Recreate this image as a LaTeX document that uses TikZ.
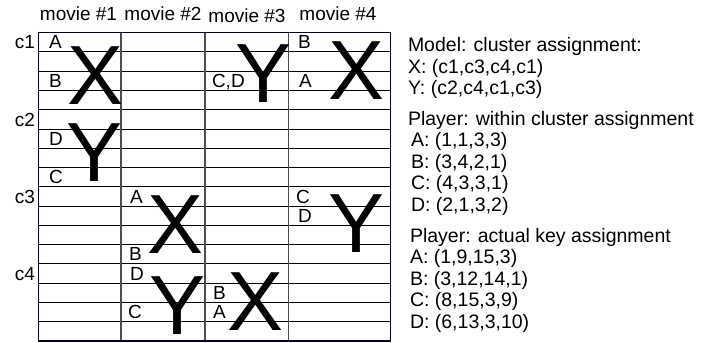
\documentclass[tikz,border=0pt]{standalone}
\usepackage{fontspec}
\setmainfont{Liberation Sans}
\begin{document}
\begin{tikzpicture}[x=1pt,y=-1pt,
  txt/.style={inner sep=0pt, outer sep=0pt, font=\fontsize{19}{19}\selectfont},
  lbl/.style={txt, anchor=base west},
  clab/.style={txt, anchor=base east},
  head/.style={txt, anchor=base},
  big/.style={inner sep=0pt, outer sep=0pt, anchor=base, font=\fontsize{84}{84}\selectfont},
  info/.style={inner sep=0pt, outer sep=0pt, anchor=base west, font=\fontsize{19.5}{19.5}\selectfont},
  hline/.style={black, line width=1pt},
  vline/.style={black!70, line width=1.1pt},
  gridframe/.style={black!85!blue, line width=1.1pt}]
\useasboundingbox (0,0) rectangle (705,343);
% grid
\foreach \i in {1,...,15}
  \draw[hline] (38.3,{32.7+19.27*\i}) -- (390.7,{32.7+19.27*\i});
\foreach \xx in {121,205,288.3}
  \draw[vline] (\xx,32.7) -- (\xx,341);
\draw[gridframe] (38.3,32.7) rectangle (390.7,341);
% headers
\node[head] (h1) at (78.5,20) {movie \#1};
\node[head] (h2) at (163,20.5) {movie \#2};
\node[head] (h3) at (247,22) {movie \#3};
\node[head] (h4) at (338,20) {movie \#4};
% cluster labels
\node[clab] (c1) at (35,{32.7+19.27*1-3}) {c1};
\node[clab] (c2) at (35,{32.7+19.27*5-3}) {c2};
\node[clab] (c3) at (35,{32.7+19.27*9-3}) {c3};
\node[clab] (c4) at (35,{32.7+19.27*13-3}) {c4};
% small player letters
\node[lbl] (m1a) at (49,{32.7+19.27*1-3}) {A};
\node[lbl] (m1b) at (49,{32.7+19.27*3-3}) {B};
\node[lbl] (m1d) at (49,{32.7+19.27*6-3}) {D};
\node[lbl] (m1c) at (49,{32.7+19.27*8-3}) {C};
\node[lbl] (m2a) at (130,{32.7+19.27*9-3}) {A};
\node[lbl] (m2b) at (129,{32.7+19.27*12-3}) {B};
\node[lbl] (m2d) at (130,{32.7+19.27*13-3}) {D};
\node[lbl] (m2c) at (128,{32.7+19.27*15-3}) {C};
\node[lbl] (m3cd) at (212,{32.7+19.27*3-3}) {C,D};
\node[lbl] (m3b) at (213,{32.7+19.27*14-3}) {B};
\node[lbl] (m3a) at (213,{32.7+19.27*15-3}) {A};
\node[lbl] (m4b) at (298,{32.7+19.27*1-3}) {B};
\node[lbl] (m4a) at (299,{32.7+19.27*3-3}) {A};
\node[lbl] (m4c) at (296,{32.7+19.27*9-3}) {C};
\node[lbl] (m4d) at (298,{32.7+19.27*10-3}) {D};
% big model letters
\node[big] (x1) at (96,104) {X};
\node[big] (y1) at (94.5,181) {Y};
\node[big] (y3) at (264,102) {Y};
\node[big] (x4) at (357,99.5) {X};
\node[big] (x2) at (176,253) {X};
\node[big] (y2) at (177.5,334) {Y};
\node[big] (x3) at (256,330) {X};
\node[big] (y4) at (357,252) {Y};
% right-hand text
\node[info] (t1) at (408,51.5) {Model: cluster assignment:};
\node[info] (t2) at (408,73) {X: (c1,c3,c4,c1)};
\node[info] (t3) at (408,94) {Y: (c2,c4,c1,c3)};
\node[info] (t4) at (408,125) {Player: within cluster assignment};
\node[info] (t5) at (411,146.5) {A: (1,1,3,3)};
\node[info] (t6) at (411,168) {B: (3,4,2,1)};
\node[info] (t7) at (411,189.5) {C: (4,3,3,1)};
\node[info] (t8) at (411,211) {D: (2,1,3,2)};
\node[info] (t9) at (410,242) {Player: actual key assignment};
\node[info] (t10) at (410,263.5) {A: (1,9,15,3)};
\node[info] (t11) at (410,285) {B: (3,12,14,1)};
\node[info] (t12) at (410,306.5) {C: (8,15,3,9)};
\node[info] (t13) at (410,328) {D: (6,13,3,10)};
\end{tikzpicture}
\end{document}
